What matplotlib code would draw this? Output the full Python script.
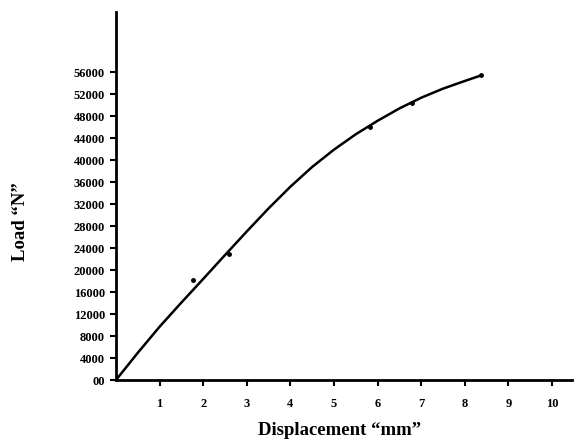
import matplotlib.pyplot as plt

# displacement (mm) and load (N)
disp = [0, 0.5, 1, 1.5, 2, 2.5, 3, 3.5, 4, 4.5, 5, 5.5, 6, 6.5, 7, 7.5, 8, 8.37]
load = [0, 4950, 9700, 14100, 18400, 22750, 27050, 31250, 35200, 38800,
        41950, 44750, 47200, 49450, 51400, 53050, 54450, 55450]

# measured points shown as dots
pt_disp = [1.77, 2.6, 5.83, 6.78, 8.37]
pt_load = [18200, 23000, 46100, 50500, 55450]

xticks = [1, 2, 3, 4, 5, 6, 7, 8, 9, 10]
yticks = [0, 4000, 8000, 12000, 16000, 20000, 24000, 28000, 32000,
          36000, 40000, 44000, 48000, 52000, 56000]
ylabels = ['00'] + [str(v) for v in yticks[1:]]

plt.rcParams['font.family'] = ['Liberation Serif', 'DejaVu Serif']

fig = plt.figure(figsize=(5.74, 4.45), dpi=100)
ax = fig.add_axes([0.202, 0.146, 0.794, 0.827])

ax.plot(disp, load, color='black', lw=1.8, solid_joinstyle='round')
ax.plot(pt_disp, pt_load, 'o', color='black', ms=2.5)

ax.set_xlim(0, 10.45)
ax.set_ylim(0, 67000)
ax.set_xticks(xticks)
ax.set_xticklabels([str(v) for v in xticks], fontsize=9, fontweight='bold')
ax.set_yticks(yticks)
ax.set_yticklabels(ylabels, fontsize=9, fontweight='bold')

for s in ['top', 'right']:
    ax.spines[s].set_visible(False)
for s in ['left', 'bottom']:
    ax.spines[s].set_linewidth(2)
ax.tick_params(width=1.5, length=4)
ax.tick_params(axis='x', pad=9)
ax.tick_params(axis='y', pad=4)

ax.set_xlabel('Displacement \u201cmm\u201d', fontsize=13.5, fontweight='bold')
ax.set_ylabel('Load \u201cN\u201d', fontsize=13.5, fontweight='bold')
ax.xaxis.set_label_coords(0.49, -0.115)
ax.yaxis.set_label_coords(-0.19, 0.43)

fig.savefig('out.png', dpi=100)
